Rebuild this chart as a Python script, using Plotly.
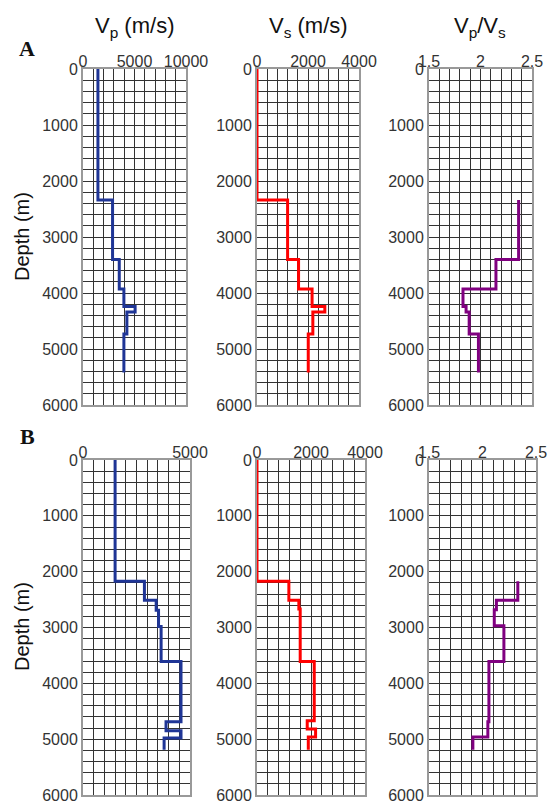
import plotly.graph_objects as go

# ---------------- data ----------------
# Panel A
A_vp_tops = [0, 2340, 3400, 3930, 4240, 4340, 4730]
A_vp = [1450, 2870, 3520, 3970, 5060, 4260, 3970]
A_vp_end = 5420

A_vs_tops = [0, 2340, 3400, 3930, 4240, 4340, 4730]
A_vs = [0, 1200, 1630, 2160, 2660, 2190, 2010]
A_vs_end = 5420

A_vpvs_tops = [2340, 3400, 3930, 4240, 4340, 4730]
A_vpvs = [2.37, 2.15, 1.83, 1.86, 1.89, 1.98]
A_vpvs_end = 5420

# Panel B
B_vp_tops = [0, 2170, 2510, 2690, 2980, 3610, 4690, 4850, 4980]
B_vp = [1500, 2870, 3420, 3530, 3650, 4580, 3880, 4580, 3790]
B_vp_end = 5190

B_vs_tops = [0, 2170, 2510, 2670, 3610, 4670, 4820, 4960]
B_vs = [0, 1180, 1550, 1600, 2120, 1860, 2170, 1900]
B_vs_end = 5190

B_vpvs_tops = [2170, 2510, 2680, 2970, 3610, 4690, 4960]
B_vpvs = [2.33, 2.13, 2.11, 2.20, 2.06, 2.05, 1.91]
B_vpvs_end = 5190

titles = ["V<sub>p</sub> (m/s)", "V<sub>s</sub> (m/s)", "V<sub>p</sub>/V<sub>s</sub>"]
row_labels = ["A", "B"]
depth_title = "Depth (m)"

# ---------------- layout helpers ----------------
W, H = 551, 806
def px(x):
    return x / W
def py(y):
    return 1 - y / H

FONT = "Arial, Liberation Sans, sans-serif"
colors = ["#1f3596", "#ff0000", "#800080"]

panels = [
    # (row, col, x0, x1, y0, y1, range, dtick, minor, fmt, tops, vals, end)
    (0, 0, 83, 186, 69, 405, [0, 10000], 5000, 1000, "d", A_vp_tops, A_vp, A_vp_end),
    (0, 1, 257, 359, 69, 405, [0, 4000], 2000, 400, "d", A_vs_tops, A_vs, A_vs_end),
    (0, 2, 429, 532, 69, 405, [1.5, 2.5], 0.5, 0.1, "", A_vpvs_tops, A_vpvs, A_vpvs_end),
    (1, 0, 83, 190, 460, 795, [0, 5000], 5000, 500, "d", B_vp_tops, B_vp, B_vp_end),
    (1, 1, 257, 365, 460, 795, [0, 4000], 2000, 400, "d", B_vs_tops, B_vs, B_vs_end),
    (1, 2, 429, 536, 460, 795, [1.5, 2.5], 0.5, 0.1, "", B_vpvs_tops, B_vpvs, B_vpvs_end),
]

fig = go.Figure()
layout = dict(
    width=W, height=H,
    margin=dict(l=0, r=0, t=0, b=0, autoexpand=False),
    paper_bgcolor="white", plot_bgcolor="white",
    showlegend=False,
    font=dict(family=FONT, color="#333333", size=16),
)

GRID = "#333333"
for i, (r, c, x0, x1, y0, y1, rng, dt, mn, fmt, tops, vals, end) in enumerate(panels):
    n = i + 1
    xa = "xaxis" if n == 1 else f"xaxis{n}"
    ya = "yaxis" if n == 1 else f"yaxis{n}"
    xr = "x" if n == 1 else f"x{n}"
    yr = "y" if n == 1 else f"y{n}"
    layout[xa] = dict(
        domain=[px(x0), px(x1)], range=rng, side="top", anchor=yr,
        dtick=dt, tick0=rng[0], tickformat=fmt, automargin=False,
        showgrid=True, gridcolor=GRID, gridwidth=1,
        minor=dict(dtick=mn, tick0=rng[0], showgrid=True, gridcolor=GRID, gridwidth=1),
        showline=True, linecolor="#999999", linewidth=2, mirror=True,
        ticks="", ticklabelstandoff=-6, zeroline=False, layer="below traces",
        tickfont=dict(size=16, family=FONT, color="#333333"),
    )
    layout[ya] = dict(
        domain=[py(y1), py(y0)], range=[6000, 0], anchor=xr,
        dtick=1000, tick0=0, tickformat="d", automargin=False,
        showgrid=True, gridcolor=GRID, gridwidth=1,
        minor=dict(dtick=200, tick0=0, showgrid=True, gridcolor=GRID, gridwidth=1),
        showline=True, linecolor="#999999", linewidth=2, mirror=True,
        ticks="", ticklabelstandoff=0, zeroline=False, layer="below traces",
        tickfont=dict(size=16, family=FONT, color="#333333"),
    )
    fig.add_trace(go.Scatter(
        x=list(vals) + [vals[-1]], y=list(tops) + [end],
        mode="lines", line=dict(color=colors[c], width=3, shape="vh"),
        xaxis=xr, yaxis=yr, hoverinfo="skip",
    ))

fig.update_layout(**layout)

annotations = []
title_x = [134, 308, 480]
for c, t in enumerate(titles):
    annotations.append(dict(
        text=t, x=px(title_x[c]), y=py(11), xref="paper", yref="paper",
        xanchor="center", yanchor="top", showarrow=False,
        font=dict(size=22, family=FONT, color="#111111"),
    ))
for lbl, yc in zip(row_labels, [48, 437]):
    annotations.append(dict(
        text=f"<b>{lbl}</b>", x=px(27), y=py(yc), xref="paper", yref="paper",
        xanchor="center", yanchor="middle", showarrow=False,
        font=dict(size=22, family="Times New Roman, Liberation Serif, serif", color="#111111"),
    ))
for yc in [237, 627]:
    annotations.append(dict(
        text=depth_title, x=px(22), y=py(yc), xref="paper", yref="paper",
        xanchor="center", yanchor="middle", showarrow=False, textangle=-90,
        font=dict(size=20, family=FONT, color="#111111"),
    ))
fig.update_layout(annotations=annotations)

fig.write_html("out.html")
